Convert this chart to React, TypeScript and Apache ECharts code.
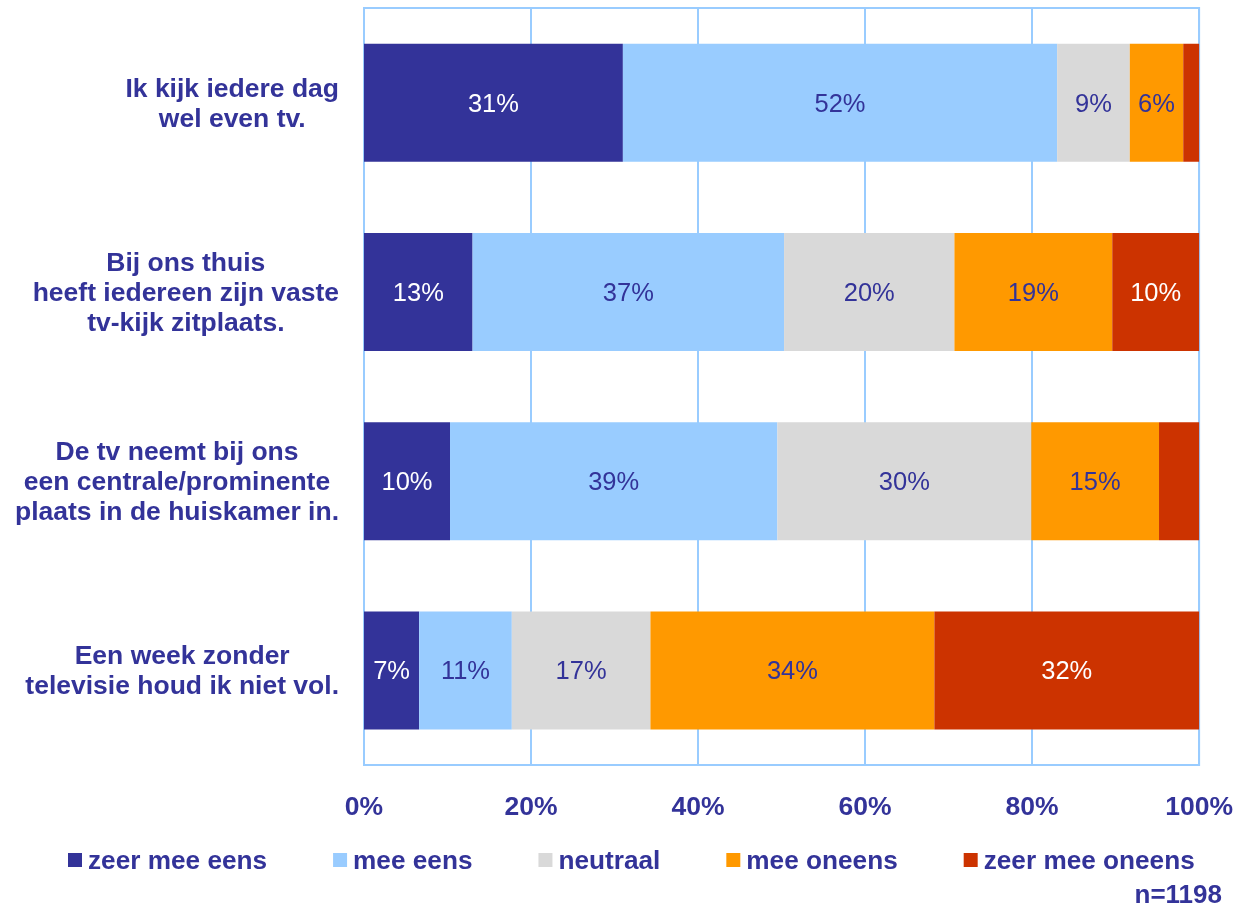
import React, { useEffect, useRef } from "react";
import * as echarts from "echarts";

const categories = [
  "Ik kijk iedere dag\nwel even tv.",
  "Bij ons thuis\nheeft iedereen zijn vaste\ntv-kijk zitplaats.",
  "De tv neemt bij ons\neen centrale/prominente\nplaats in de huiskamer in.",
  "Een week zonder\ntelevisie houd ik niet vol.",
];

const seriesNames = ["zeer mee eens", "mee eens", "neutraal", "mee oneens", "zeer mee oneens"];
const zeerMeeEens = [31, 13, 10.3, 6.6];
const meeEens = [52, 37.3, 39.2, 11.1];
const neutraal = [8.7, 20.4, 30.4, 16.6];
const meeOneens = [6.4, 18.9, 15.3, 34];
const zeerMeeOneens = [1.9, 10.4, 4.8, 31.7];
const xTicks = [0, 20, 40, 60, 80, 100];
const sampleNote = "n=1198";

const colors = ["#333399", "#99CCFF", "#D9D9D9", "#FF9900", "#CC3300"];
const labelColors = ["#FFFFFF", "#333399", "#333399", "#333399", "#FFFFFF"];
const FONT = "'Liberation Sans', Arial, Helvetica, sans-serif";
const TEXT = "#333399";
const FS = 26.5;

export default function App() {
  const ref = useRef<HTMLDivElement>(null);
  useEffect(() => {
    if (!ref.current) return;
    const chart = echarts.init(ref.current, null, { renderer: "svg" });
    const allData = [zeerMeeEens, meeEens, neutraal, meeOneens, zeerMeeOneens];
    chart.setOption({
      animation: false,
      textStyle: { fontFamily: FONT },
      grid: {
        left: 364,
        right: 34,
        top: 8,
        bottom: 144,
        show: true,
        borderColor: "#99CCFF",
        borderWidth: 2,
        containLabel: false,
      },
      xAxis: {
        type: "value",
        min: xTicks[0],
        max: xTicks[xTicks.length - 1],
        interval: 20,
        axisLine: { show: false },
        axisTick: { show: false },
        splitLine: { show: true, lineStyle: { color: "#99CCFF", width: 2 } },
        axisLabel: {
          margin: 27,
          color: TEXT,
          fontWeight: "bold",
          fontSize: FS,
          fontFamily: FONT,
          formatter: (v: number) => v + "%",
        },
      },
      yAxis: {
        type: "category",
        data: categories,
        inverse: true,
        axisLine: { show: false },
        axisTick: { show: false },
        splitLine: { show: false },
        axisLabel: {
          margin: 25,
          align: "right",
          color: TEXT,
          fontWeight: "bold",
          fontSize: FS,
          lineHeight: 30,
          fontFamily: FONT,
          formatter: (v: string) =>
            v
              .split("\n")
              .map((l) => "{c|" + l + "}")
              .join("\n"),
          rich: {
            c: {
              align: "center",
              color: TEXT,
              fontWeight: "bold",
              fontSize: FS,
              lineHeight: 30,
              fontFamily: FONT,
            },
          },
        },
      },
      legend: {
        left: 63,
        top: 842,
        itemWidth: 14,
        itemHeight: 14,
        itemGap: 66,
        icon: "rect",
        data: seriesNames,
        textStyle: {
          color: TEXT,
          fontWeight: "bold",
          fontSize: 26.2,
          fontFamily: FONT,
          padding: [0, 0, 0, 1],
        },
      },
      graphic: [
        {
          type: "text",
          x: 1222,
          y: 894,
          style: {
            text: sampleNote,
            fill: TEXT,
            font: "bold 26px " + FONT,
            textAlign: "right",
            textVerticalAlign: "middle",
          },
        },
      ],
      series: seriesNames.map((name, i) => ({
        name,
        type: "bar",
        stack: "total",
        barWidth: 118,
        itemStyle: { color: colors[i] },
        data: allData[i],
        label: {
          show: true,
          position: "inside",
          color: labelColors[i],
          fontSize: 25.5,
          fontFamily: FONT,
          formatter: (p: any) => (p.value < 5 ? "" : Math.round(p.value) + "%"),
        },
      })),
    });
    return () => chart.dispose();
  }, []);
  return (
    <div
      ref={ref}
      style={{ position: "fixed", left: 0, top: 0, width: 1236, height: 909 }}
    />
  );
}
